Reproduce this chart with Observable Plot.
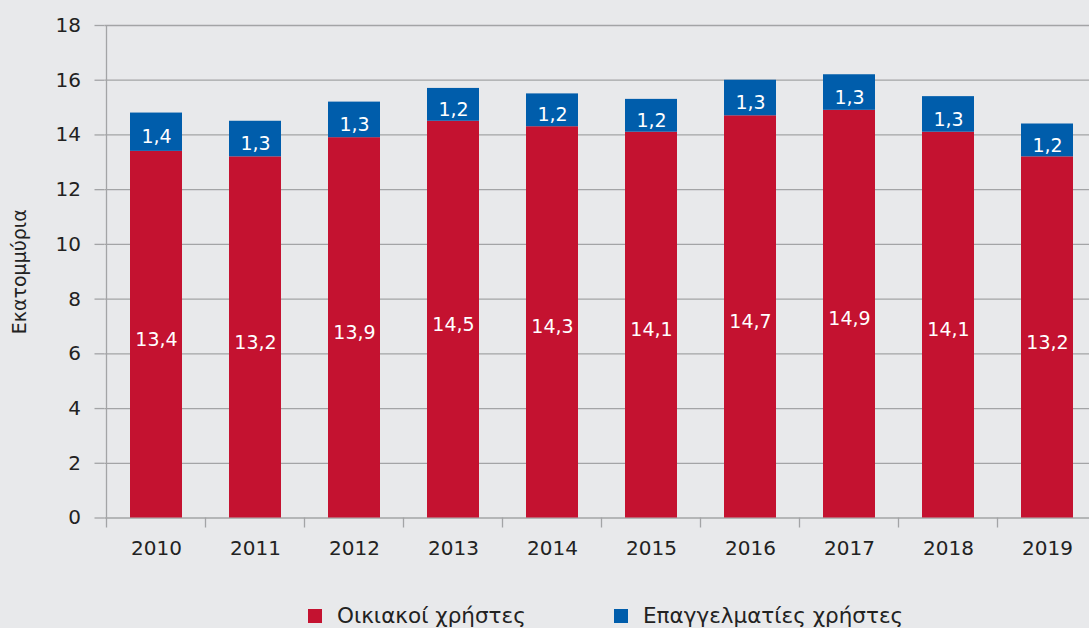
<!DOCTYPE html>
<html>
<head>
<meta charset="utf-8">
<script src="https://cdn.jsdelivr.net/npm/d3@7"></script>
<script src="https://cdn.jsdelivr.net/npm/@observablehq/plot@0.6"></script>
<style>
  html, body { margin: 0; padding: 0; background: #e8e9eb; }
  body { width: 1089px; height: 628px; overflow: hidden; font-family: "DejaVu Sans", sans-serif; }
  #legend { position: relative; height: 42px; }
  .item { position: absolute; top: 17px; display: flex; align-items: center; font-size: 21.5px; color: #222; white-space: nowrap; }
  .swatch { width: 14px; height: 14px; margin-right: 15px; }
</style>
</head>
<body>
<div id="chart"></div>
<div id="legend"></div>
<script>
const years = ["2010", "2011", "2012", "2013", "2014", "2015", "2016", "2017", "2018", "2019"];
const homeUsers = [13.4, 13.2, 13.9, 14.5, 14.3, 14.1, 14.7, 14.9, 14.1, 13.2];
const proUsers = [1.4, 1.3, 1.3, 1.2, 1.2, 1.2, 1.3, 1.3, 1.3, 1.2];
const seriesNames = ["Οικιακοί χρήστες", "Επαγγελματίες χρήστες"];
const seriesColors = ["#c41230", "#005dab"];
const yTicks = [0, 2, 4, 6, 8, 10, 12, 14, 16, 18];
const yLabel = "Εκατομμύρια";

const data = years.flatMap((year, i) => [
  {year, series: seriesNames[0], value: homeUsers[i]},
  {year, series: seriesNames[1], value: proUsers[i]}
]);
const fmt = v => v.toFixed(1).replace(".", ",");
const gridColor = "#a3a4a6";

// band boundary ticks + vertical axis line
function boundaryTicks(index, scales, values, dimensions) {
  const x = scales.x;
  const dom = x.domain();
  const bw = typeof x.bandwidth === "function" ? x.bandwidth() : x.bandwidth;
  const step = dom.length > 1 ? x(dom[1]) - x(dom[0]) : bw;
  const gap = (step - bw) / 2;
  const bounds = dom.map(d => x(d) - gap).concat([x(dom[dom.length - 1]) + bw + gap]);
  const bottom = dimensions.height - dimensions.marginBottom;
  const g = d3.create("svg:g").attr("stroke", gridColor).attr("stroke-width", 1.3);
  g.selectAll("line.b").data(bounds).join("line")
    .attr("x1", d => d).attr("x2", d => d)
    .attr("y1", bottom).attr("y2", bottom + 10);
  g.append("line")
    .attr("x1", bounds[0]).attr("x2", bounds[0])
    .attr("y1", dimensions.marginTop).attr("y2", bottom);
  return g.node();
}

const chart = Plot.plot({
  width: 1089,
  height: 586,
  marginTop: 25,
  marginBottom: 68.5,
  marginLeft: 104.5,
  marginRight: 0,
  style: {background: "#e8e9eb", fontFamily: "DejaVu Sans, sans-serif", fontSize: "20px", color: "#222", overflow: "visible"},
  x: {domain: years, range: [104.5, 1099], paddingInner: 0.47, paddingOuter: 0.235},
  y: {domain: [0, 18]},
  color: {domain: seriesNames, range: seriesColors},
  marks: [
    Plot.gridY(yTicks, {stroke: gridColor, strokeOpacity: 1, strokeWidth: 1.3}),
    Plot.axisY(yTicks, {tickSize: 10, tickPadding: 14, stroke: gridColor, strokeWidth: 1.3, fill: "#222", fontSize: 20,
      label: yLabel, labelAnchor: "center", labelOffset: 93, labelArrow: false}),
    Plot.axisX({tickSize: 0, tickPadding: 22.5, fill: "#222", fontSize: 20, label: null}),
    Plot.barY(data, {x: "year", y: "value", fill: "series"}),
    Plot.text(data, Plot.stackY({x: "year", y: "value", z: "series", text: d => fmt(d.value), fill: "white", fontSize: 19, dy: 5})),
    boundaryTicks
  ]
});
document.getElementById("chart").appendChild(chart);

// y-axis label font size
chart.querySelectorAll("text").forEach(t => {
  if (t.textContent === yLabel) { t.setAttribute("font-size", 19); }
});

const legend = document.getElementById("legend");
const lefts = [308, 614];
seriesNames.forEach((name, i) => {
  const item = document.createElement("div");
  item.className = "item";
  item.style.left = lefts[i] + "px";
  item.innerHTML = `<span class="swatch" style="background:${seriesColors[i]}"></span><span>${name}</span>`;
  legend.appendChild(item);
});
</script>
</body>
</html>
